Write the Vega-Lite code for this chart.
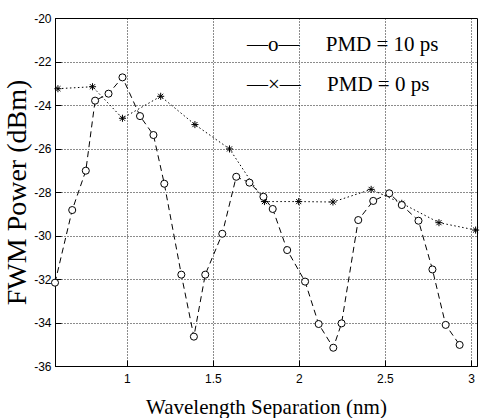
{
  "$schema": "https://vega.github.io/schema/vega-lite/v6.json",
  "width": 422,
  "height": 348,
  "autosize": {"type": "none"},
  "padding": {"left": 55, "top": 18, "right": 3, "bottom": 52},
  "background": "white",
  "config": {
    "view": {"stroke": "black", "strokeWidth": 1},
    "axis": {
      "grid": true,
      "gridColor": "black",
      "gridDash": [1, 2],
      "gridOpacity": 0.9,
      "gridWidth": 1,
      "domainColor": "black",
      "tickColor": "black",
      "tickSize": -6,
      "labelFont": "Liberation Sans",
      "labelFontSize": 12,
      "labelColor": "black",
      "titleFont": "Liberation Serif",
      "titleFontWeight": "normal",
      "titleColor": "black"
    },
    "legend": {
      "labelFont": "Liberation Serif",
      "labelFontSize": 21,
      "labelColor": "black",
      "labelLimit": 400
    }
  },
  "datasets": {
    "curves": [
      {"series": "PMD = 10 ps", "sep": 0.583, "power": -32.17},
      {"series": "PMD = 10 ps", "sep": 0.683, "power": -28.83},
      {"series": "PMD = 10 ps", "sep": 0.762, "power": -27.02},
      {"series": "PMD = 10 ps", "sep": 0.816, "power": -23.80},
      {"series": "PMD = 10 ps", "sep": 0.894, "power": -23.48},
      {"series": "PMD = 10 ps", "sep": 0.975, "power": -22.73},
      {"series": "PMD = 10 ps", "sep": 1.077, "power": -24.51},
      {"series": "PMD = 10 ps", "sep": 1.155, "power": -25.38},
      {"series": "PMD = 10 ps", "sep": 1.218, "power": -27.62},
      {"series": "PMD = 10 ps", "sep": 1.317, "power": -31.80},
      {"series": "PMD = 10 ps", "sep": 1.390, "power": -34.65},
      {"series": "PMD = 10 ps", "sep": 1.456, "power": -31.80},
      {"series": "PMD = 10 ps", "sep": 1.555, "power": -29.92},
      {"series": "PMD = 10 ps", "sep": 1.636, "power": -27.30},
      {"series": "PMD = 10 ps", "sep": 1.713, "power": -27.57},
      {"series": "PMD = 10 ps", "sep": 1.794, "power": -28.22},
      {"series": "PMD = 10 ps", "sep": 1.848, "power": -28.78},
      {"series": "PMD = 10 ps", "sep": 1.932, "power": -30.67},
      {"series": "PMD = 10 ps", "sep": 2.036, "power": -32.12},
      {"series": "PMD = 10 ps", "sep": 2.115, "power": -34.07},
      {"series": "PMD = 10 ps", "sep": 2.200, "power": -35.16},
      {"series": "PMD = 10 ps", "sep": 2.248, "power": -34.04},
      {"series": "PMD = 10 ps", "sep": 2.345, "power": -29.29},
      {"series": "PMD = 10 ps", "sep": 2.432, "power": -28.41},
      {"series": "PMD = 10 ps", "sep": 2.525, "power": -28.06},
      {"series": "PMD = 10 ps", "sep": 2.598, "power": -28.60},
      {"series": "PMD = 10 ps", "sep": 2.695, "power": -29.32},
      {"series": "PMD = 10 ps", "sep": 2.776, "power": -31.56},
      {"series": "PMD = 10 ps", "sep": 2.853, "power": -34.11},
      {"series": "PMD = 10 ps", "sep": 2.934, "power": -35.03},
      {"series": "PMD = 0 ps", "sep": 0.600, "power": -23.25},
      {"series": "PMD = 0 ps", "sep": 0.801, "power": -23.16},
      {"series": "PMD = 0 ps", "sep": 0.975, "power": -24.61},
      {"series": "PMD = 0 ps", "sep": 1.197, "power": -23.60},
      {"series": "PMD = 0 ps", "sep": 1.396, "power": -24.90},
      {"series": "PMD = 0 ps", "sep": 1.597, "power": -26.02},
      {"series": "PMD = 0 ps", "sep": 1.800, "power": -28.44},
      {"series": "PMD = 0 ps", "sep": 1.999, "power": -28.44},
      {"series": "PMD = 0 ps", "sep": 2.198, "power": -28.46},
      {"series": "PMD = 0 ps", "sep": 2.420, "power": -27.88},
      {"series": "PMD = 0 ps", "sep": 2.598, "power": -28.52},
      {"series": "PMD = 0 ps", "sep": 2.814, "power": -29.41},
      {"series": "PMD = 0 ps", "sep": 3.027, "power": -29.75}
    ]
  },
  "data": {"name": "curves"},
  "encoding": {
    "x": {
      "field": "sep",
      "type": "quantitative",
      "scale": {"domain": [0.583, 3.035], "nice": false, "zero": false},
      "axis": {
        "values": [1, 1.5, 2, 2.5, 3],
        "labelExpr": "toString(datum.value)",
        "title": "Wavelength Separation (nm)",
        "titleFontSize": 21,
        "labelPadding": 13,
        "titlePadding": 12
      }
    },
    "y": {
      "field": "power",
      "type": "quantitative",
      "scale": {"domain": [-36, -20], "nice": false, "zero": false},
      "axis": {
        "values": [-36, -34, -32, -30, -28, -26, -24, -22, -20],
        "labelExpr": "toString(datum.value)",
        "title": "FWM Power (dBm)",
        "titleFontSize": 28,
        "labelPadding": 10,
        "titlePadding": 2
      }
    }
  },
  "layer": [
    {
      "transform": [{"filter": "datum.series === 'PMD = 10 ps'"}],
      "mark": {"type": "line", "color": "black", "strokeWidth": 1, "strokeDash": [6, 4]},
      "encoding": {}
    },
    {
      "transform": [{"filter": "datum.series === 'PMD = 0 ps'"}],
      "mark": {"type": "line", "color": "black", "strokeWidth": 1, "strokeDash": [1.5, 2.5]},
      "encoding": {}
    },
    {
      "transform": [{"filter": "datum.series === 'PMD = 0 ps'"}],
      "mark": {"type": "point", "filled": false, "color": "black", "strokeWidth": 1, "size": 50, "opacity": 1, "shape": "M-1,0L1,0M0,-1L0,1M-0.72,-0.72L0.72,0.72M-0.72,0.72L0.72,-0.72"}
    },
    {
      "transform": [{"filter": "datum.series === 'PMD = 10 ps'"}],
      "mark": {"type": "point", "filled": false, "color": "black", "fill": "white", "fillOpacity": 1, "strokeWidth": 1, "size": 50, "opacity": 1},
      "encoding": {
        "shape": {
          "field": "series",
          "type": "nominal",
          "scale": {
            "domain": ["PMD = 10 ps", "PMD = 0 ps"],
            "range": ["circle", "cross"]
          },
          "legend": {
            "title": null,
            "orient": "none",
            "legendX": 119,
            "legendY": 16,
            "padding": 0,
            "symbolSize": 64,
            "symbolOpacity": 0,
            "labelOffset": 52,
            "labelLimit": 400,
            "rowPadding": 18,
            "labelExpr": "(datum.label === 'PMD = 10 ps' ? '\u2014o\u2014' : '\u2014\u00d7\u2014') + '\u00a0\u00a0\u00a0\u00a0\u00a0' + datum.label"
          }
        }
      }
    }
  ]
}
